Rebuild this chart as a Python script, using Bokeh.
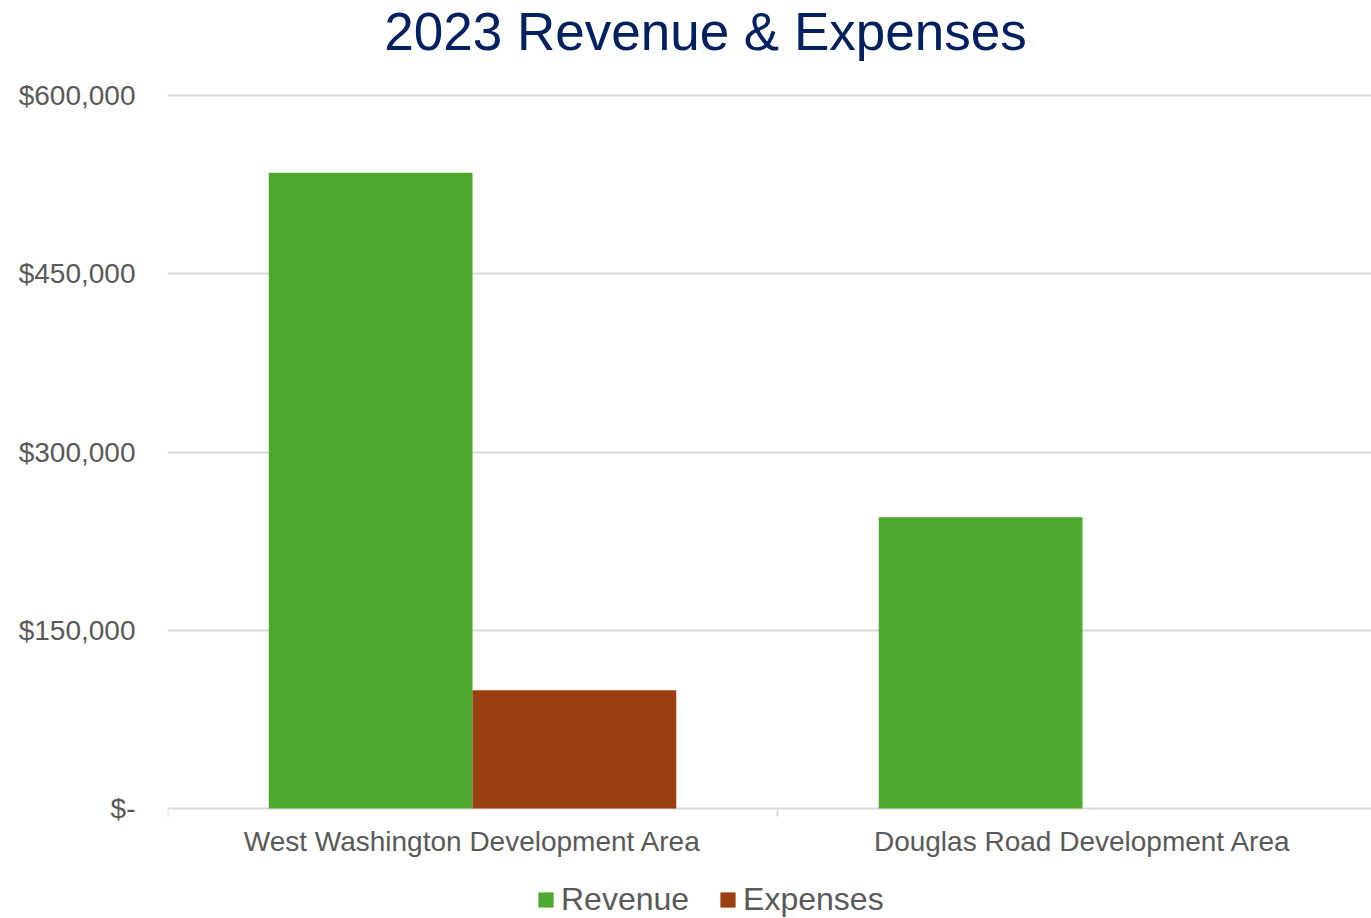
import math
from bokeh.plotting import figure
from bokeh.models import (ColumnDataSource, Range1d, FixedTicker, NumeralTickFormatter,
                          Legend, LegendItem, Label)
from bokeh.core.properties import value
from bokeh.transform import dodge
from bokeh.embed import file_html
from bokeh.resources import INLINE

# ---- data ----
title_text = "2023 Revenue & Expenses"
categories = ["West Washington Development Area", "Douglas Road Development Area"]
revenue = [535000, 245000]
expenses = [99500, 0]
y_ticks = [0, 150000, 300000, 450000, 600000]
series_names = ["Revenue", "Expenses"]
series_colors = ["#4EA72E", "#9A3F10"]

FONT = "Liberation Sans"
GRAY = "#595959"
GRID = "#D9D9D9"

# ---- layout (pixels) ----
W, H = 1371, 918
FRAME_LEFT, FRAME_TOP = 167, 3
ZERO_PX, TOP_TICK_PX = 808, 95   # pixel rows of the lowest / highest y tick
CAT_PX = 610                     # pixel width of one category slot

frame_w = W - FRAME_LEFT
per_px = y_ticks[-1] / (ZERO_PX - TOP_TICK_PX)
y_start = -(H - ZERO_PX) * per_px
y_end = y_ticks[-1] + (TOP_TICK_PX - FRAME_TOP) * per_px
x_end = frame_w / CAT_PX

positions = [i + 0.5 for i in range(len(categories))]
bounds = list(range(len(categories) + 1))
src = ColumnDataSource(dict(x=positions, revenue=revenue, expenses=expenses,
                            cat=categories, base=[0] * len(categories)))

p = figure(width=W, height=H, output_backend="svg", toolbar_location=None,
           x_range=Range1d(0, x_end), y_range=Range1d(y_start, y_end),
           x_axis_location=None,
           min_border_left=FRAME_LEFT, min_border_right=0, min_border_top=FRAME_TOP,
           min_border_bottom=0, outline_line_color=None)

r1 = p.vbar(x=dodge("x", -0.167, range=p.x_range), top="revenue", width=0.334, source=src,
            fill_color=series_colors[0], line_color=None)
r2 = p.vbar(x=dodge("x", 0.167, range=p.x_range), top="expenses", width=0.334, source=src,
            fill_color=series_colors[1], line_color=None)

# category axis: boundary ticks and labels
p.ray(x=bounds, y=[0] * len(bounds), length=8, length_units="screen",
      angle=-math.pi / 2, line_color=GRID, line_width=2)
p.text(x="x", y="base", text="cat", source=src, text_align="center",
       text_baseline="middle", y_offset=33, text_font=value(FONT),
       text_font_size="28px", text_color=GRAY)

# title
p.add_layout(Label(x=705 - FRAME_LEFT, y=H - 31, x_units="screen", y_units="screen",
                   text=title_text, text_align="center", text_baseline="alphabetic",
                   text_font=FONT, text_font_size="53px", text_color="#002060"))

# y axis
ya = p.yaxis[0]
ya.ticker = FixedTicker(ticks=y_ticks)
ya.formatter = NumeralTickFormatter(format="$0,0")
ya.major_label_overrides = {0: "$-"}
ya.axis_line_color = None
ya.major_tick_line_color = None
ya.minor_tick_line_color = None
ya.major_label_standoff = 26
ya.major_label_text_font = FONT
ya.major_label_text_font_size = "28px"
ya.major_label_text_color = GRAY

p.xgrid.grid_line_color = None
p.ygrid.ticker = FixedTicker(ticks=y_ticks)
p.ygrid.grid_line_color = GRID
p.ygrid.grid_line_width = 2

legend = Legend(items=[LegendItem(label=series_names[0], renderers=[r1]),
                       LegendItem(label=series_names[1], renderers=[r2])],
                orientation="horizontal", location=(369, 0),
                label_text_font=FONT, label_text_font_size="32px",
                label_text_color=GRAY, glyph_width=19, glyph_height=19,
                spacing=29, label_standoff=6, padding=0, margin=0,
                border_line_color=None, background_fill_alpha=0)
p.add_layout(legend, "center")

open("out.html", "w").write(file_html(p, INLINE))
